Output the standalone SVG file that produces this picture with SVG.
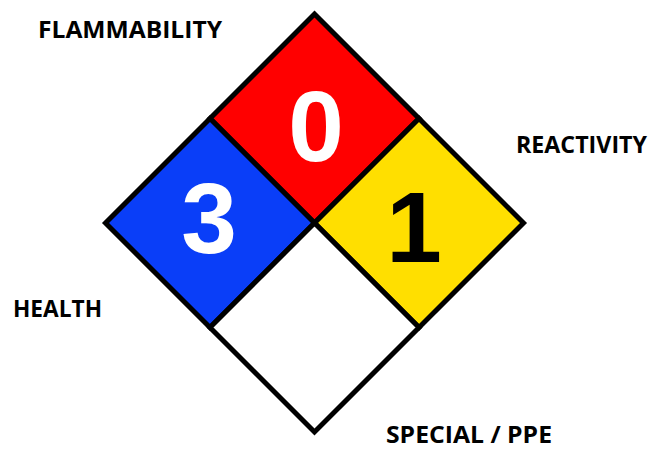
<svg xmlns="http://www.w3.org/2000/svg" width="657" height="450" viewBox="0 0 657 450">
<style>
.lbl{font-family:"Open Sans","Liberation Sans",sans-serif;font-weight:bold;font-size:23.5px;fill:#000}
.num{font-family:"Liberation Sans",Arial,sans-serif;font-weight:bold;font-size:100px;text-anchor:middle}
.q{stroke:#000;stroke-width:5;stroke-linejoin:miter}
</style>
<rect width="657" height="450" fill="#fff"/>
<g id="flammability">
<polygon class="q" points="314.5,14 419,118.5 314.5,223 210,118.5" fill="#ff0000"/>
<text class="num" x="316" y="161" fill="#fff">0</text>
</g>
<g id="health">
<polygon class="q" points="210,118.5 314.5,223 210,327.5 105.5,223" fill="#0a3ef8"/>
<text class="num" x="209" y="253" fill="#fff">3</text>
</g>
<g id="reactivity">
<polygon class="q" points="419,118.5 523.5,223 419,327.5 314.5,223" fill="#ffdf00"/>
<text class="num" x="414" y="262" fill="#000">1</text>
</g>
<g id="special">
<polygon class="q" points="314.5,223 419,327.5 314.5,432 210,327.5" fill="#fff"/>
</g>
<g id="labels">
<text class="lbl" x="38" y="38" textLength="184" lengthAdjust="spacingAndGlyphs">FLAMMABILITY</text>
<text class="lbl" x="13" y="317" textLength="89" lengthAdjust="spacingAndGlyphs">HEALTH</text>
<text class="lbl" x="516" y="153" textLength="131" lengthAdjust="spacingAndGlyphs">REACTIVITY</text>
<text class="lbl" x="386" y="443" textLength="166" lengthAdjust="spacingAndGlyphs">SPECIAL / PPE</text>
</g>
</svg>
